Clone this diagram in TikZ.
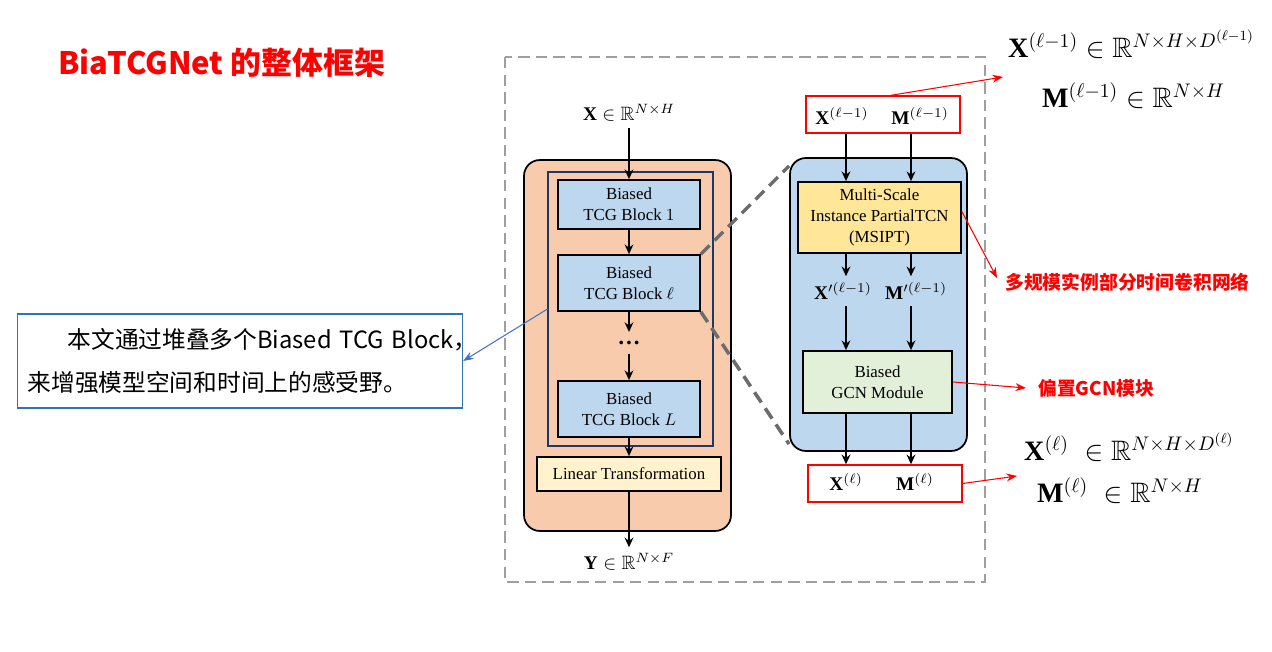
\RequirePackage{fix-cm}
\documentclass[tikz,border=0pt]{standalone}
\usepackage{amsmath,amssymb}
\usepackage{fontspec}
\setmainfont{Liberation Serif}
\newfontfamily\cjk{Noto Sans CJK SC}
\usetikzlibrary{arrows.meta}

\definecolor{peach}{RGB}{248,203,173}
\definecolor{skyblue}{RGB}{189,215,238}
\definecolor{gold}{RGB}{255,230,153}
\definecolor{cream}{RGB}{255,242,204}
\definecolor{mint}{RGB}{226,240,217}
\definecolor{navy}{RGB}{31,56,100}
\definecolor{noteblue}{RGB}{46,117,182}
\definecolor{linkblue}{RGB}{68,114,196}

\tikzset{
  blk/.style={draw, line width=1pt, fill=skyblue, align=center, inner sep=0pt,
    minimum width=2.84cm, font=\fontsize{9.6}{12}\selectfont},
  flow/.style={-{Stealth[length=5.5pt,width=5pt]}, line width=1.1pt},
  redbox/.style={draw=red, line width=0.8pt, minimum width=3.08cm, minimum height=0.74cm},
  redarrow/.style={-{Stealth[length=6pt,width=4.5pt]}, red, line width=0.6pt},
  mlab/.style={font=\fontsize{11}{13}\selectfont},
  dimlab/.style={font=\fontsize{16}{19}\selectfont, anchor=west},
  redtxt/.style={text=red, font=\cjk\bfseries\fontsize{10.7}{13}\selectfont, anchor=west},
}

\begin{document}
\begin{tikzpicture}[x=0.02cm, y=-0.02cm]
    \useasboundingbox (0,0) rectangle (1272,652);

    \node[text=red, anchor=west, font=\cjk\bfseries\fontsize{17.6}{21}\selectfont] (title) at (52,63) {BiaTCGNet 的整体框架};

    \draw[gray!75, line width=1.1pt, dash pattern=on 6.5pt off 3.5pt] (505,57) rectangle (985,582);

    % left: stack of blocks
    \node[draw, line width=1pt, fill=peach, rounded corners=9pt, minimum width=4.14cm, minimum height=7.42cm] (body) at (627.5,345.5) {};
    \node[draw=navy, line width=0.6pt, minimum width=3.3cm, minimum height=5.48cm] (stack) at (630.5,309) {};
    \node[mlab] (xin) at (629,113) {$\mathbf{X}\in\mathbb{R}^{N\times H}$};
    \node[blk, minimum height=0.98cm] (b1) at (629,204.5) {Biased\\TCG Block $1$};
    \node[blk, minimum height=1.12cm] (bl) at (629,283) {Biased\\TCG Block $\ell$};
    \node[font=\bfseries\fontsize{13}{13}\selectfont, inner ysep=5pt] (gap) at (629,343) {…};
    \node[blk, minimum height=1.12cm] (bL) at (629,409) {Biased\\TCG Block $L$};
    \node[blk, fill=cream, minimum width=3.68cm, minimum height=0.68cm] (lt) at (629,474) {Linear Transformation};
    \node[mlab] (yout) at (629,562) {$\mathbf{Y}\in\mathbb{R}^{N\times F}$};
    \draw[flow] (xin) -- (b1);
    \draw[flow] (b1) -- (bl);
    \draw[flow] (bl) -- (gap);
    \draw[flow] (gap) -- (bL);
    \draw[flow] (bL) -- (lt);
    \draw[flow] (lt) -- (yout);

    % right: one block in detail
    \node[draw, line width=1pt, fill=skyblue, rounded corners=9pt, minimum width=3.54cm, minimum height=5.86cm] (panel) at (878.5,304.5) {};
    \coordinate (zt) at (789,166);
    \coordinate (zb) at (789,444);
    \draw[gray!85!black, line width=2pt, dash pattern=on 7pt off 4pt] (bl.north east) -- (zt);
    \draw[gray!85!black, line width=2pt, dash pattern=on 7pt off 4pt] (bl.south east) -- (zb);

    \coordinate (cx) at (846,0);
    \coordinate (cm) at (911,0);
    \node[redbox] (inbox) at (883,114.5) {};
    \node[mlab] (xp) at (842,116) {$\mathbf{X}^{(\ell-1)}$};
    \node[mlab] (mp) at (920,116) {$\mathbf{M}^{(\ell-1)}$};
    \node[blk, fill=gold, minimum width=3.26cm, minimum height=1.42cm] (ms) at (879.5,217.5) {Multi-Scale\\Instance PartialTCN\\(MSIPT)};
    \node[mlab] (xq) at (843,291) {$\mathbf{X}^{\prime(\ell-1)}$};
    \node[mlab] (mq) at (916,291) {$\mathbf{M}^{\prime(\ell-1)}$};
    \node[blk, fill=mint, minimum width=2.98cm, minimum height=1.24cm] (gcn) at (877.5,382) {Biased\\GCN Module};
    \node[redbox] (outbox) at (885,483.5) {};
    \node[mlab] (xo) at (846,482) {$\mathbf{X}^{(\ell)}$};
    \node[mlab] (mo) at (915,482) {$\mathbf{M}^{(\ell)}$};

    \draw[flow] (inbox.south -| cx) -- (ms.north -| cx);
    \draw[flow] (inbox.south -| cm) -- (ms.north -| cm);
    \draw[flow] (ms.south -| cx) -- (xq.north -| cx);
    \draw[flow] (ms.south -| cm) -- (mq.north -| cm);
    \draw[flow] (xq.south -| cx) -- (gcn.north -| cx);
    \draw[flow] (mq.south -| cm) -- (gcn.north -| cm);
    \draw[flow] (gcn.south -| cx) -- (outbox.north -| cx);
    \draw[flow] (gcn.south -| cm) -- (outbox.north -| cm);

    % red notes
    \node[dimlab] (xann) at (1002,44) {$\mathbf{X}^{(\ell-1)}\in\mathbb{R}^{N\times H\times D^{(\ell-1)}}$};
    \node[dimlab] (mann) at (1036,96) {$\mathbf{M}^{(\ell-1)}\in\mathbb{R}^{N\times H}$};
    \node[redtxt] (msl) at (999,282) {多规模实例部分时间卷积网络};
    \node[redtxt] (gcnl) at (1032,388) {偏置GCN模块};
    \node[dimlab] (xoann) at (1018,447) {$\mathbf{X}^{(\ell)}\;\in\mathbb{R}^{N\times H\times D^{(\ell)}}$};
    \node[dimlab] (moann) at (1031,491) {$\mathbf{M}^{(\ell)}\;\in\mathbb{R}^{N\times H}$};
    \coordinate (t1) at (1003,77);
    \coordinate (t2) at (1017,476);
    \draw[redarrow] ([xshift=0.16cm]inbox.north) -- (t1);
    \draw[redarrow] ([yshift=0.12cm]ms.east) -- ([xshift=-0.04cm,yshift=0.08cm]msl.west);
    \draw[redarrow] (gcn.east) -- ([xshift=-0.12cm]gcnl.west);
    \draw[redarrow] (outbox.east) -- (t2);

    % blue note
    \node[draw=noteblue, line width=0.7pt, anchor=west, align=left, inner xsep=0.2cm,
      text width=8.5cm, minimum height=1.88cm,
      font=\cjk\fontsize{13.5}{24}\selectfont] (note) at (17,361)
      {\mbox{\hspace*{0.8cm}本文通过堆叠多个Biased TCG Block，}\\来增强模型空间和时间上的感受野。};
    \draw[-{Stealth[length=6pt,width=4.5pt]}, linkblue, line width=0.6pt] (stack.west) -- (note.east);
\end{tikzpicture}
\end{document}
